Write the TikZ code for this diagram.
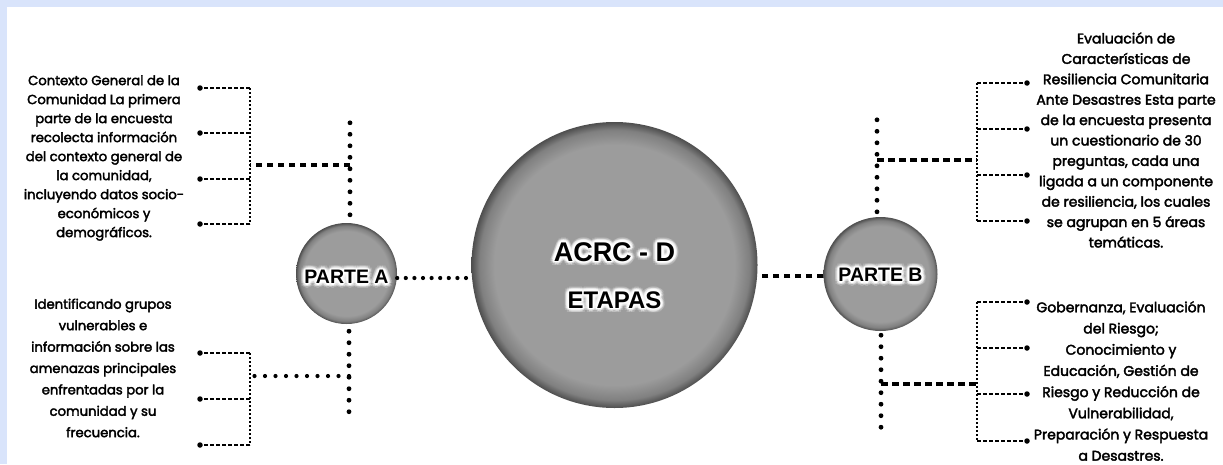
\documentclass[tikz,border=0pt]{standalone}
\usepackage{fontspec}
\setmainfont{Liberation Sans}
\newfontfamily\pop[FakeBold=2.6]{Poppins}
\usetikzlibrary{calc}
\definecolor{frameblue}{RGB}{217,228,251}
\definecolor{cgray}{RGB}{156,156,156}
\definecolor{cgrayd}{RGB}{128,128,128}
\definecolor{cedge}{RGB}{78,78,78}
\pgfdeclareradialshading{ballgray}{\pgfpoint{0bp}{0bp}}{color(0bp)=(cgray); color(21bp)=(cgray); color(23.6bp)=(cgrayd); color(25bp)=(cedge); color(50bp)=(cedge)}
\tikzset{
  ballnode/.style={circle, draw=none, shading=ballgray, inner sep=0pt},
  bigdots/.style={line width=4.8pt, line cap=round, dash pattern=on 0pt off 11.5pt},
  smalldots/.style={line width=4.2pt, line cap=round, dash pattern=on 0pt off 8.6pt},
  thickdash/.style={line width=3.8pt, dash pattern=on 6.5pt off 4.5pt},
  bracketline/.style={line width=2.6pt, dash pattern=on 2pt off 2pt},
  branchline/.style={line width=2.6pt, dash pattern=on 4pt off 2pt},
  enddot/.style={circle, fill=black, inner sep=0pt, minimum size=5.5pt},
  bodytext/.style={align=center, inner sep=0pt},
}
\newcommand\glowlabel[4]{% name, position, font, text
  \foreach \a in {0,30,...,330} {\node[font=#3, text=white, opacity=0.2] (#1f\a) at ($(#2)+(\a:4.6)$) {#4};}
  \foreach \a in {0,30,...,330} {\node[font=#3, text=white, opacity=0.4] (#1g\a) at ($(#2)+(\a:3.1)$) {#4};}
  \foreach \a in {0,45,...,315} {\node[font=#3, text=white] (#1h\a) at ($(#2)+(\a:1.6)$) {#4};}
  \node[font=#3, text=black] (#1) at (#2) {#4};
}
\begin{document}
\begin{tikzpicture}[x=1pt,y=-1pt]
\useasboundingbox (0,0) rectangle (1223,464);
\fill[frameblue] (0,0) rectangle (1223,464);
\fill[white] (7,7) rectangle (1223,464);

% circles
\node[ballnode, minimum size=286pt] (C) at (614.5,265) {};
\node[ballnode, minimum size=101pt] (A) at (346.5,273.5) {};
\node[ballnode, minimum size=114pt] (B) at (880.5,274) {};

\coordinate (pC1) at (614.5,252);
\coordinate (pC2) at (614.5,300);
\coordinate (pA) at (346.5,277);
\coordinate (pB) at (880.5,275);
\glowlabel{acrc}{pC1}{\bfseries\fontsize{27}{27}\selectfont}{ACRC - D}
\glowlabel{etapas}{pC2}{\bfseries\fontsize{24}{24}\selectfont}{ETAPAS}
\glowlabel{parteA}{pA}{\bfseries\fontsize{19.5}{19.5}\selectfont}{PARTE A}
\glowlabel{parteB}{pB}{\bfseries\fontsize{19.5}{19.5}\selectfont}{PARTE B}

% connectors between circles
\draw[smalldots] ([yshift=-4.5pt]A.east) -- ([yshift=-4.5pt]A.east -| C.west);
\draw[thickdash] ([yshift=-2pt]B.west) -- ([yshift=-2pt]B.west -| C.east);

% ---------- top left group
\coordinate (aTop) at (350,120);
\coordinate (aTj) at (350,165);
\coordinate (bTLj) at (250,165);
\coordinate (bTL1) at (250,88);
\coordinate (bTL2) at (250,133);
\coordinate (bTL3) at (250,179);
\coordinate (bTL4) at (250,224);
\node[enddot] (eTL1) at (200,88) {};
\node[enddot] (eTL2) at (200,133) {};
\node[enddot] (eTL3) at (200,179) {};
\node[enddot] (eTL4) at (200,224) {};
\draw[bigdots] ([yshift=8pt]A.north -| aTop) -- (aTop);
\draw[thickdash] (aTj) -- (bTLj);
\draw[bracketline] (bTL1) -- (bTL4);
\foreach \i in {1,2,3,4} {\draw[branchline] (bTL\i) -- (eTL\i.center);}

% ---------- bottom left group
\coordinate (aBot) at (349,423);
\coordinate (aBj) at (349,376);
\coordinate (bBLj) at (250,376);
\coordinate (bBL1) at (250,353);
\coordinate (bBL2) at (250,399);
\coordinate (bBL3) at (250,445);
\node[enddot] (eBL1) at (200,353) {};
\node[enddot] (eBL2) at (200,399) {};
\node[enddot] (eBL3) at (200,445) {};
\draw[bigdots] ([yshift=-7pt]A.south -| aBot) -- (aBot);
\draw[smalldots, dash pattern=on 0pt off 10.5pt] (aBj) -- (bBLj);
\draw[bracketline] (bBL1) -- (bBL3);
\foreach \i in {1,2,3} {\draw[branchline] (bBL\i) -- (eBL\i.center);}

% ---------- top right group
\coordinate (bTop) at (877,118);
\coordinate (bTj) at (877,160);
\coordinate (bTRj) at (977,160);
\coordinate (bTR1) at (977,83);
\coordinate (bTR2) at (977,129);
\coordinate (bTR3) at (977,175);
\coordinate (bTR4) at (977,221);
\node[enddot] (eTR1) at (1027,83) {};
\node[enddot] (eTR2) at (1027,129) {};
\node[enddot] (eTR3) at (1027,175) {};
\node[enddot] (eTR4) at (1027,221) {};
\draw[bigdots] ([yshift=5pt]B.north -| bTop) -- (bTop);
\draw[thickdash] (bTj) -- (bTRj);
\draw[bracketline] (bTR1) -- (bTR4);
\foreach \i in {1,2,3,4} {\draw[branchline] (bTR\i) -- (eTR\i.center);}

% ---------- bottom right group
\coordinate (bBot) at (881,428);
\coordinate (bBj) at (881,384);
\coordinate (bBRj) at (977,384);
\coordinate (bBR1) at (977,302);
\coordinate (bBR2) at (977,348);
\coordinate (bBR3) at (977,394);
\coordinate (bBR4) at (977,441);
\node[enddot] (eBR1) at (1027,302) {};
\node[enddot] (eBR2) at (1027,348) {};
\node[enddot] (eBR3) at (1027,394) {};
\node[enddot] (eBR4) at (1027,441) {};
\draw[bigdots] ([yshift=-4pt]B.south -| bBot) -- (bBot);
\draw[thickdash] (bBj) -- (bBRj);
\draw[bracketline] (bBR1) -- (bBR4);
\foreach \i in {1,2,3,4} {\draw[branchline] (bBR\i) -- (eBR\i.center);}

% ---------- texts
\tikzset{bodyfont/.style 2 args={font=\pop\fontsize{#1}{#2}\selectfont}}
\node[bodytext, bodyfont={13.2}{19}] (t1) at (104,158) {Contexto General de la\\Comunidad La primera\\parte de la encuesta\\recolecta información\\del contexto general de\\la comunidad,\\incluyendo datos socio-\\económicos y\\demográficos.};
\node[bodytext, bodyfont={13.2}{21.4}] (t2) at (103,368) {Identificando grupos\\vulnerables e\\información sobre las\\amenazas principales\\enfrentadas por la\\comunidad y su\\frecuencia.};
\node[bodytext, bodyfont={14}{20.4}] (t3) at (1126,140) {Evaluación de\\Características de\\Resiliencia Comunitaria\\Ante Desastres Esta parte\\de la encuesta presenta\\un cuestionario de 30\\preguntas, cada una\\ligada a un componente\\de resiliencia, los cuales\\se agrupan en 5 áreas\\temáticas.};
\node[bodytext, bodyfont={14}{21.2}] (t4) at (1121,381) {Gobernanza, Evaluación\\del Riesgo;\\Conocimiento y\\Educación, Gestión de\\Riesgo y Reducción de\\Vulnerabilidad,\\Preparación y Respuesta\\a Desastres.};
\end{tikzpicture}
\end{document}
